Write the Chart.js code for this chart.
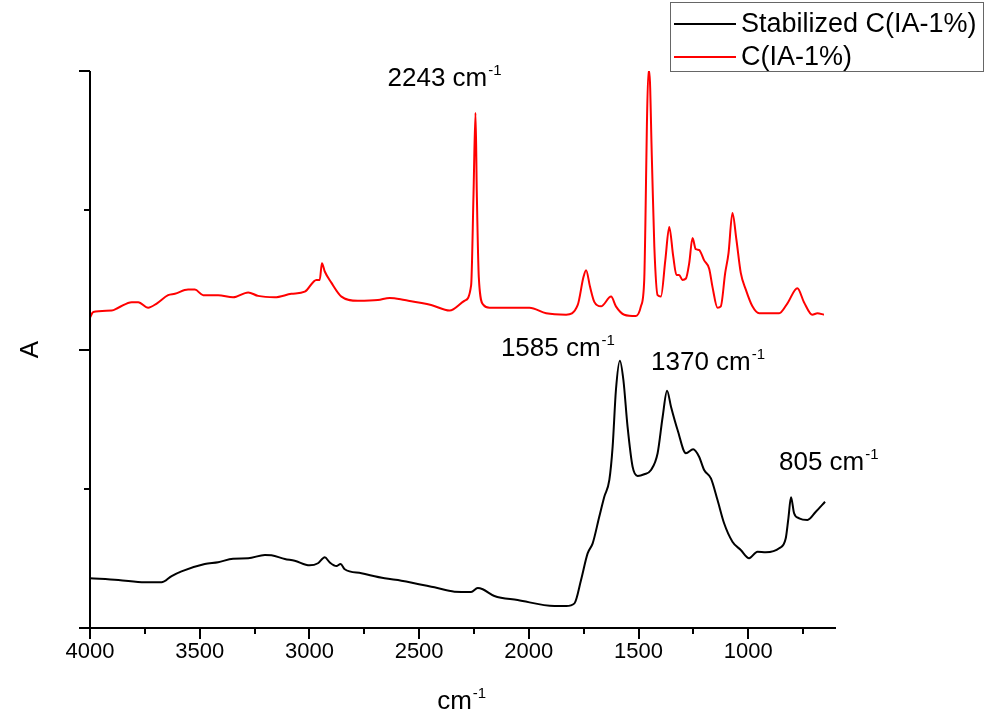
<!DOCTYPE html>
<html>
<head>
<meta charset="utf-8">
<title>FTIR spectra</title>
<script src="https://cdn.jsdelivr.net/npm/chart.js@4.4.1/dist/chart.umd.min.js"></script>
<style>
  html, body { margin: 0; padding: 0; background: #fff; }
  #wrap { width: 986px; height: 713px; }
</style>
</head>
<body>
<div id="wrap"><canvas id="ftir" width="986" height="713"></canvas></div>
<script>
// stabilized fibre, wavenumber (cm-1) and absorbance
const stabilizedWavenumber = [
  4000, 3871, 3750, 3674, 3628, 3583, 3477, 3416, 3348, 3279, 3203, 3173, 3112, 3067,
  2999, 2961, 2930, 2908, 2877, 2858, 2839, 2763, 2657, 2581, 2430, 2339, 2263, 2233,
  2210, 2157, 2051, 1883, 1830, 1792, 1762, 1732, 1709, 1679, 1656, 1633, 1618, 1603,
  1585, 1569, 1550, 1527, 1504, 1474, 1443, 1413, 1390, 1370, 1352, 1322, 1284, 1251,
  1224, 1201, 1170, 1140, 1110, 1072, 1034, 996, 958, 920, 859, 829, 817, 805, 791,
  768, 730, 692, 650
];
const stabilizedAbsorbance = [
  0.357, 0.345, 0.328, 0.328, 0.373, 0.407, 0.46, 0.472, 0.498, 0.501, 0.524, 0.522, 0.496, 0.483,
  0.45, 0.465, 0.508, 0.472, 0.445, 0.46, 0.422, 0.393, 0.357, 0.34, 0.292, 0.261, 0.259, 0.287,
  0.278, 0.23, 0.201, 0.158, 0.158, 0.177, 0.345, 0.536, 0.608, 0.799, 0.943, 1.063, 1.302, 1.709,
  1.92, 1.781, 1.446, 1.158, 1.092, 1.104, 1.135, 1.255, 1.517, 1.704, 1.589, 1.422, 1.255, 1.283,
  1.23, 1.135, 1.075, 0.919, 0.752, 0.62, 0.56, 0.501, 0.548, 0.544, 0.572, 0.644, 0.788, 0.939, 0.824,
  0.788, 0.776, 0.835, 0.907
];

// precursor C(IA-1%), offset upwards
const precursorWavenumber = [
  4000, 3985, 3901, 3871, 3810, 3780, 3735, 3696, 3644, 3613, 3553, 3522, 3484, 3416,
  3348, 3279, 3234, 3158, 3082, 3021, 2968, 2953, 2943, 2930, 2900, 2854, 2779, 2688,
  2634, 2566, 2445, 2361, 2293, 2263, 2252, 2243, 2237, 2228, 2207, 2179, 1997, 1921,
  1830, 1777, 1751, 1739, 1721, 1701, 1671, 1625, 1603, 1565, 1512, 1489, 1474, 1469,
  1462, 1455, 1451, 1439, 1428, 1413, 1398, 1378, 1360, 1342, 1327, 1315, 1300, 1284,
  1269, 1254, 1239, 1224, 1201, 1178, 1163, 1140, 1125, 1105, 1090, 1072, 1054, 1034,
  1011, 981, 950, 859, 822, 776, 746, 708, 685, 655
];
const precursorAbsorbance = [
  2.23, 2.27, 2.28, 2.3, 2.34, 2.34, 2.3, 2.33, 2.39, 2.4, 2.43, 2.43, 2.39, 2.39,
  2.375, 2.41, 2.385, 2.375, 2.4, 2.415, 2.5, 2.5, 2.62, 2.56, 2.48, 2.38, 2.35, 2.355,
  2.37, 2.355, 2.32, 2.28, 2.35, 2.46, 3.12, 3.7, 3.12, 2.52, 2.32, 2.3, 2.3, 2.26,
  2.25, 2.32, 2.52, 2.57, 2.45, 2.34, 2.31, 2.38, 2.31, 2.25, 2.24, 2.31, 2.5, 2.88,
  3.6, 4.0, 4.0, 3.36, 2.74, 2.39, 2.38, 2.64, 2.88, 2.67, 2.535, 2.535, 2.5, 2.51,
  2.62, 2.8, 2.72, 2.715, 2.64, 2.58, 2.45, 2.3, 2.31, 2.55, 2.69, 2.98, 2.79, 2.55,
  2.43, 2.31, 2.26, 2.26, 2.33, 2.44, 2.34, 2.25, 2.26, 2.25
];

const seriesLabels = ["Stabilized C(IA-1%)", "C(IA-1%)"];
const xTickValues = [4000, 3500, 3000, 2500, 2000, 1500, 1000];
const xMinorTicks = [3750, 3250, 2750, 2250, 1750, 1250, 750];
const yMajorTicks = [0, 2, 4];
const yMinorTicks = [1, 3];

// peak marks: wavenumber, which series, and text offset from the peak (px)
const peakNotes = [
  { wn: 2243, series: 1, dx: -88, dy: -27 },
  { wn: 1585, series: 0, dx: -119, dy: -5 },
  { wn: 1370, series: 0, dx: -16, dy: -21 },
  { wn: 805, series: 0, dx: -12, dy: -27 }
];

const FONT = "'Liberation Sans', Arial, sans-serif";

function toPoints(xs, ys) {
  return xs.map((x, i) => ({ x: x, y: ys[i] }));
}

// text with a raised "-1"
function drawUnit(ctx, text, x, y, size) {
  ctx.font = `${size}px ${FONT}`;
  ctx.textBaseline = "alphabetic";
  ctx.textAlign = "left";
  ctx.fillText(text, x, y);
  const w = ctx.measureText(text).width;
  ctx.font = `${Math.round(size * 0.58)}px ${FONT}`;
  ctx.fillText("-1", x + w + 1, y - size * 0.42);
  return w + ctx.measureText("-1").width + 1;
}

const framePlugin = {
  id: "frame",
  afterDraw(chart) {
    const ctx = chart.ctx;
    const xs = chart.scales.x;
    const ys = chart.scales.y;
    const area = chart.chartArea;
    ctx.save();
    ctx.strokeStyle = "#000";
    ctx.fillStyle = "#000";
    ctx.lineWidth = 2;
    ctx.lineCap = "butt";

    // axes
    ctx.beginPath();
    ctx.moveTo(area.left, area.top);
    ctx.lineTo(area.left, area.bottom);
    ctx.moveTo(area.left, area.bottom);
    ctx.lineTo(area.right, area.bottom);
    ctx.stroke();

    // tick marks
    ctx.beginPath();
    xTickValues.forEach((v) => {
      const px = Math.round(xs.getPixelForValue(v));
      ctx.moveTo(px, area.bottom);
      ctx.lineTo(px, area.bottom + 11);
    });
    xMinorTicks.forEach((v) => {
      const px = Math.round(xs.getPixelForValue(v));
      ctx.moveTo(px, area.bottom);
      ctx.lineTo(px, area.bottom + 6);
    });
    yMajorTicks.forEach((v) => {
      const py = Math.round(ys.getPixelForValue(v));
      ctx.moveTo(area.left, py);
      ctx.lineTo(area.left - 11, py);
    });
    yMinorTicks.forEach((v) => {
      const py = Math.round(ys.getPixelForValue(v));
      ctx.moveTo(area.left, py);
      ctx.lineTo(area.left - 6, py);
    });
    ctx.stroke();

    // axis titles
    ctx.save();
    ctx.translate(38, (area.top + area.bottom) / 2);
    ctx.rotate(-Math.PI / 2);
    ctx.font = `26px ${FONT}`;
    ctx.textAlign = "center";
    ctx.textBaseline = "alphabetic";
    ctx.fillText("A", 0, 0);
    ctx.restore();

    ctx.font = `26px ${FONT}`;
    const cmW = ctx.measureText("cm").width + 9;
    drawUnit(ctx, "cm", (area.left + area.right) / 2 - cmW / 2 - 4, 709, 26);

    // peak labels
    peakNotes.forEach((n) => {
      const meta = chart.getDatasetMeta(n.series);
      const ds = chart.data.datasets[n.series];
      const idx = ds.data.findIndex((p) => p.x === n.wn);
      const pt = meta.data[idx];
      drawUnit(ctx, `${n.wn} cm`, pt.x + n.dx, pt.y + n.dy, 26);
    });

    // legend box
    ctx.lineWidth = 1;
    ctx.strokeStyle = "#666";
    ctx.strokeRect(670.5, 2.5, 313, 69);
    chart.data.datasets.forEach((ds, i) => {
      const ly = 24 + i * 33;
      ctx.strokeStyle = ds.borderColor;
      ctx.lineWidth = 2;
      ctx.beginPath();
      ctx.moveTo(674, ly);
      ctx.lineTo(736, ly);
      ctx.stroke();
      ctx.fillStyle = "#000";
      ctx.font = `27px ${FONT}`;
      ctx.textBaseline = "middle";
      ctx.textAlign = "left";
      ctx.fillText(ds.label, 741, ly + 1);
    });
    ctx.restore();
  }
};

new Chart(document.getElementById("ftir"), {
  type: "line",
  data: {
    datasets: [
      {
        label: seriesLabels[0],
        data: toPoints(stabilizedWavenumber, stabilizedAbsorbance),
        borderColor: "#000000",
        borderWidth: 2,
        pointRadius: 0,
        cubicInterpolationMode: "monotone"
      },
      {
        label: seriesLabels[1],
        data: toPoints(precursorWavenumber, precursorAbsorbance),
        borderColor: "#ff0000",
        borderWidth: 2,
        pointRadius: 0,
        cubicInterpolationMode: "monotone"
      }
    ]
  },
  options: {
    responsive: false,
    animation: false,
    devicePixelRatio: 1,
    layout: { padding: { top: 71, right: 150, left: 0, bottom: 0 } },
    plugins: {
      legend: { display: false },
      tooltip: { enabled: false }
    },
    scales: {
      x: {
        type: "linear",
        reverse: true,
        min: 600,
        max: 4000,
        afterBuildTicks: (s) => { s.ticks = xTickValues.map((v) => ({ value: v })); },
        afterFit: (s) => { s.height = 85; },
        ticks: {
          color: "#000",
          font: { family: FONT, size: 22 },
          padding: 11,
          maxRotation: 0,
          autoSkip: false,
          callback: (v) => String(v)
        },
        grid: { display: false, drawTicks: false },
        border: { display: false }
      },
      y: {
        min: 0,
        max: 4,
        afterBuildTicks: (s) => { s.ticks = yMajorTicks.concat(yMinorTicks).map((v) => ({ value: v })); },
        afterFit: (s) => { s.width = 90; },
        ticks: { display: false },
        grid: { display: false, drawTicks: false },
        border: { display: false }
      }
    }
  },
  plugins: [framePlugin]
});
</script>
</body>
</html>
